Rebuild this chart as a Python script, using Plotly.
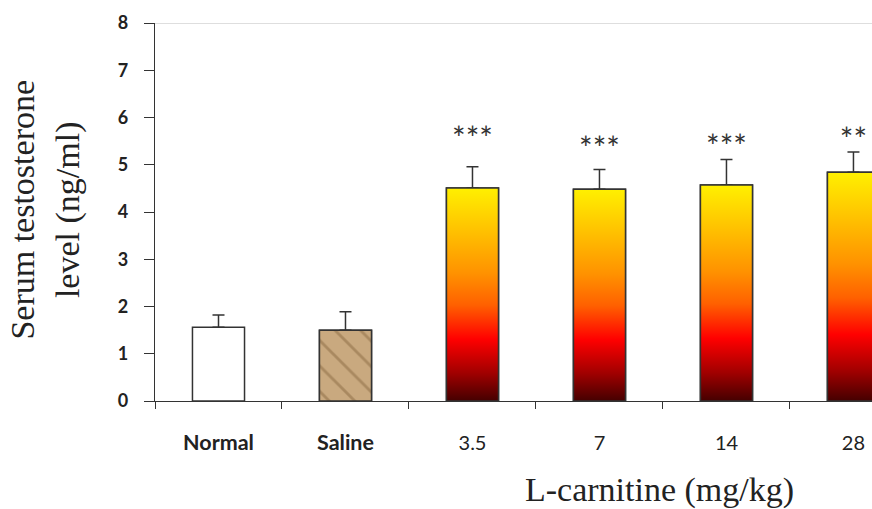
import plotly.graph_objects as go

categories = ["Normal", "Saline", "3.5", "7", "14", "28"]
tick_labels = ["<b><span style='font-size:21.5px'>Normal</span></b>",
               "<b><span style='font-size:21.5px'>Saline</span></b>",
               "3.5", "7", "14", "28"]
means = [1.56, 1.50, 4.51, 4.48, 4.57, 4.84]
sem = [0.26, 0.39, 0.45, 0.42, 0.54, 0.43]
star_groups = [2, 3, 4, 5]
star_text = ["***", "***", "***", "**"]
star_y = [5.48, 5.28, 5.32, 5.47]
y_ticks = [0, 1, 2, 3, 4, 5, 6, 7, 8]

BAR_W = 0.41
EDGE = "#333333"
TXT = "#222222"
gradient = [[0.0, "#450000"], [0.13, "#a00000"], [0.29, "#ff0000"],
            [0.45, "#ff6000"], [0.60, "#ff9200"], [0.81, "#ffc400"],
            [1.0, "#fff000"]]

xs = list(range(len(categories)))
fills = ["#ffffff", "rgba(0,0,0,0)", "rgba(0,0,0,0)", "rgba(0,0,0,0)",
         "rgba(0,0,0,0)", "rgba(0,0,0,0)"]

fig = go.Figure()

# base bars (outline, error bars)
fig.add_trace(go.Bar(
    x=xs, y=means, width=BAR_W,
    marker=dict(color=fills, line=dict(color=EDGE, width=1.5)),
    error_y=dict(type="data", array=sem, arrayminus=[0] * len(sem),
                 symmetric=False, color=EDGE, thickness=1.5, width=6),
    showlegend=False, hoverinfo="skip"))

# textured saline bar
fig.add_trace(go.Bar(
    x=[xs[1]], y=[means[1]], width=BAR_W,
    marker=dict(color="#c4a47b", line=dict(color=EDGE, width=1.5),
                pattern=dict(shape="\\", bgcolor="#c9a97f", fgcolor="#8a6a42",
                             size=18, solidity=0.16, fillmode="overlay")),
    showlegend=False, hoverinfo="skip"))

# gradient bars
for i in range(2, len(categories)):
    hw = BAR_W / 2
    fig.add_trace(go.Scatter(
        x=[xs[i] - hw, xs[i] + hw, xs[i] + hw, xs[i] - hw, xs[i] - hw],
        y=[0, 0, means[i], means[i], 0],
        mode="lines", fill="toself",
        fillgradient=dict(type="vertical", colorscale=gradient),
        line=dict(color=EDGE, width=1.5),
        showlegend=False, hoverinfo="skip"))

# significance stars
fig.add_trace(go.Scatter(
    x=star_groups, y=star_y, mode="text", text=star_text,
    textposition="middle center",
    textfont=dict(family="Lato", size=32, color="#333333"),
    showlegend=False, hoverinfo="skip"))

fig.add_shape(type="line", xref="paper", x0=0, x1=1, yref="y", y0=8, y1=8,
              line=dict(color="#bdbdbd", width=1), layer="below")

fig.add_annotation(text="Serum testosterone<br>level (ng/ml)", textangle=-90,
                   xref="paper", yref="paper", x=-0.1527, y=0.505,
                   xanchor="center", yanchor="middle", showarrow=False,
                   font=dict(family="Liberation Serif", size=34, color=TXT))
fig.add_annotation(text="L-carnitine (mg/kg)",
                   xref="paper", yref="paper", x=0.7043, y=-0.2354,
                   xanchor="center", yanchor="middle", showarrow=False,
                   font=dict(family="Liberation Serif", size=34, color=TXT))

fig.update_layout(
    width=872, height=509,
    margin=dict(l=155, r=0, t=23, b=108, pad=0),
    paper_bgcolor="white", plot_bgcolor="white",
    barmode="overlay",
    xaxis=dict(range=[-0.5, 5.146], tickmode="array", tickvals=xs,
               ticktext=tick_labels, ticks="", showgrid=False, zeroline=False,
               showline=True, linecolor=EDGE, linewidth=1.3,
               tickfont=dict(family="Lato", size=20, color=TXT),
               ticklabelstandoff=24,
               minor=dict(tickmode="array",
                          tickvals=[x - 0.5 for x in xs] + [xs[-1] + 0.5],
                          ticks="outside", ticklen=7, tickcolor=EDGE,
                          tickwidth=1.3, showgrid=False)),
    yaxis=dict(range=[0, 8], tickmode="array", tickvals=y_ticks,
               ticks="outside", ticklen=10, tickcolor=EDGE, tickwidth=1.3,
               showgrid=False, zeroline=False, showline=True, linecolor=EDGE,
               linewidth=1.3, ticklabelstandoff=12,
               tickfont=dict(family="Lato", size=18, color=TXT, weight="bold")),
)

fig.write_html("out.html", config={"displayModeBar": False},
               post_script="document.body.style.margin='0';"
                           "document.body.style.overflow='hidden';")
